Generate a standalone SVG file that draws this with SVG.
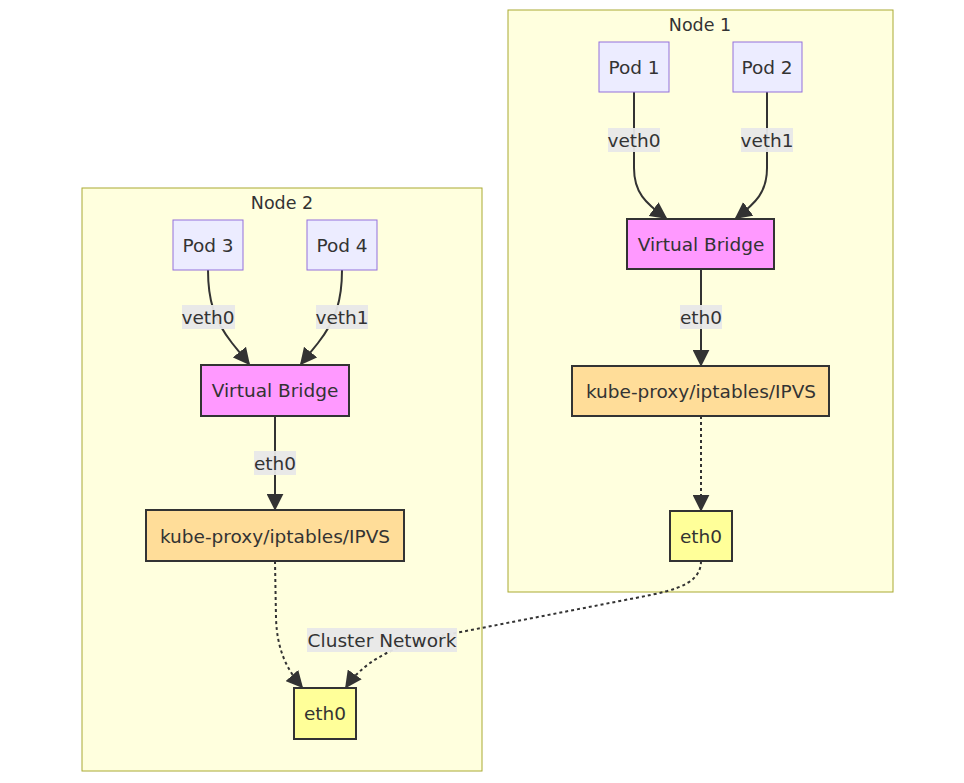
<svg xmlns="http://www.w3.org/2000/svg" width="964" height="783" viewBox="0 0 964 783">
<defs>
<marker id="arr" viewBox="0 0 10 10" refX="9" refY="5" markerWidth="8.5" markerHeight="8.5" markerUnits="strokeWidth" orient="auto">
<path d="M0,0 L10,5 L0,10 z" fill="#333"/>
</marker>
<style>
text{font-family:"DejaVu Sans","Liberation Sans",sans-serif;font-size:18.5px;fill:#333;text-anchor:middle;dominant-baseline:central}
.t{font-size:17.5px}
.cluster{fill:#ffffde;stroke:#aaaa33;stroke-width:1}
.pod{fill:#ececff;stroke:#9370db;stroke-width:1}
.vb{fill:#ff99ff;stroke:#333;stroke-width:2}
.kp{fill:#ffdd99;stroke:#333;stroke-width:2}
.eth{fill:#ffff99;stroke:#333;stroke-width:2}
.e{fill:none;stroke:#333;stroke-width:2;marker-end:url(#arr)}
.d{stroke-dasharray:3,3}
.lbl{fill:#e8e8e8;opacity:0.95}
</style>
</defs>
<rect width="964" height="783" fill="#fff"/>
<g id="node1-cluster">
<rect class="cluster" x="508" y="10" width="385" height="582"/>
<text class="t" x="700" y="25">Node 1</text>
</g>
<g id="node2-cluster">
<rect class="cluster" x="82" y="188" width="400" height="583"/>
<text class="t" x="282" y="203">Node 2</text>
</g>
<g id="connectors">
<path class="e" d="M634,92 L634,168 C634,192 645,203 666,218"/>
<path class="e" d="M767,92 L767,168 C767,192 756,203 736,218"/>
<path class="e" d="M701,269 L701,365"/>
<path class="e d" d="M701,416 L701,510"/>
<path class="e" d="M208,270 C208,300 214,320 232,343 L249,364"/>
<path class="e" d="M342,270 C342,300 336,320 318,343 L301,364"/>
<path class="e" d="M275,416 L275,509"/>
<path class="e d" d="M275,561 L276,618 C277,650 287,670 302,687"/>
<path class="e d" d="M701,561 C701,588 665,592 620,601 L430,638 C390,647 362,664 346,687"/>
<rect class="lbl" x="608" y="128" width="52" height="24"/><text x="634" y="140">veth0</text>
<rect class="lbl" x="741" y="128" width="52" height="24"/><text x="767" y="140">veth1</text>
<rect class="lbl" x="680" y="305" width="42" height="24"/><text x="701" y="317">eth0</text>
<rect class="lbl" x="182" y="305" width="53" height="24"/><text x="208" y="317">veth0</text>
<rect class="lbl" x="316" y="305" width="52" height="24"/><text x="342" y="317">veth1</text>
<rect class="lbl" x="254" y="451" width="42" height="24"/><text x="275" y="463">eth0</text>
<rect class="lbl" x="307" y="628" width="150" height="24"/><text x="382" y="640">Cluster Network</text>
</g>
<g id="pod1"><rect class="pod" x="599" y="42" width="70" height="50"/><text x="634" y="67">Pod 1</text></g>
<g id="pod2"><rect class="pod" x="733" y="42" width="69" height="50"/><text x="767" y="67">Pod 2</text></g>
<g id="vb1"><rect class="vb" x="627" y="219" width="147" height="50"/><text x="701" y="244">Virtual Bridge</text></g>
<g id="kp1"><rect class="kp" x="572" y="366" width="257" height="50"/><text x="701" y="391">kube-proxy/iptables/IPVS</text></g>
<g id="eth1"><rect class="eth" x="670" y="511" width="62" height="50"/><text x="701" y="536">eth0</text></g>
<g id="pod3"><rect class="pod" x="173" y="220" width="70" height="50"/><text x="208" y="245">Pod 3</text></g>
<g id="pod4"><rect class="pod" x="307" y="220" width="70" height="50"/><text x="342" y="245">Pod 4</text></g>
<g id="vb2"><rect class="vb" x="201" y="365" width="148" height="51"/><text x="275" y="390">Virtual Bridge</text></g>
<g id="kp2"><rect class="kp" x="146" y="510" width="258" height="51"/><text x="275" y="536">kube-proxy/iptables/IPVS</text></g>
<g id="eth2"><rect class="eth" x="294" y="688" width="62" height="51"/><text x="325" y="713">eth0</text></g>
</svg>
